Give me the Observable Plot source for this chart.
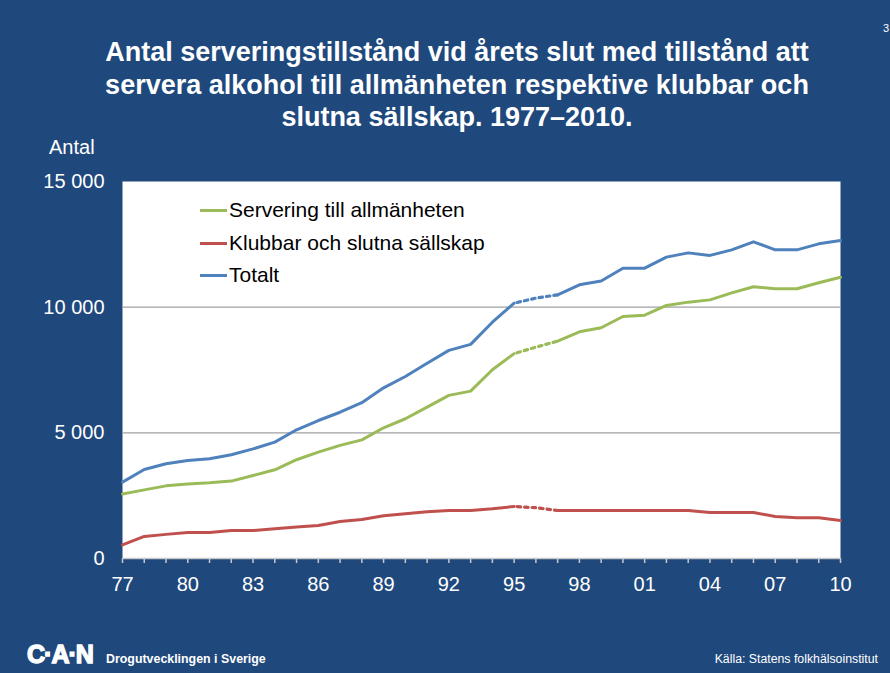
<!DOCTYPE html>
<html><head><meta charset="utf-8">
<script src="https://cdn.jsdelivr.net/npm/d3@7"></script>
<script src="https://cdn.jsdelivr.net/npm/@observablehq/plot@0.6"></script>
<style>
body{margin:0;background:#1F497D;}
#wrap{position:relative;width:890px;height:673px;background:#1F497D;overflow:hidden;font-family:"Liberation Sans",Arial,Helvetica,sans-serif;color:#fff;}
#chart{position:absolute;left:0;top:0;}
#title{position:absolute;left:0;top:36px;width:914px;text-align:center;font-weight:bold;font-size:27px;line-height:32.5px;color:#fff;}
#ylab{position:absolute;left:49px;top:137px;font-size:20px;line-height:1;}
.leg{position:absolute;left:200px;height:20px;display:flex;align-items:center;color:#000;font-size:21px;}
.leg span.sw{display:inline-block;width:27px;height:3px;margin-right:2px;}
#logo{position:absolute;left:27px;top:642px;font-weight:900;font-size:25px;line-height:25px;letter-spacing:-1px;-webkit-text-stroke:1.4px #fff;}
#org{position:absolute;left:106px;top:653px;font-weight:bold;font-size:12.4px;line-height:13px;}
#src{position:absolute;right:12px;top:653px;font-size:12.3px;line-height:13px;}
#pg{position:absolute;left:883px;top:22px;font-size:11px;}
</style></head><body><div id="wrap">
<div id="chart"></div>
<div id="title">Antal serveringstillstånd vid årets slut med tillstånd att<br>servera alkohol till allmänheten respektive klubbar och<br>slutna sällskap. 1977–2010.</div>
<div id="ylab">Antal</div>
<div id="legend"></div>
<div id="logo">C·A·N</div>
<div id="org">Drogutvecklingen i Sverige</div>
<div id="src">Källa: Statens folkhälsoinstitut</div>
<div id="pg">3</div>
</div>
<script>
const years = [1977,1978,1979,1980,1981,1982,1983,1984,1985,1986,1987,1988,1989,1990,1991,1992,1993,1994,1995,1996,1997,1998,1999,2000,2001,2002,2003,2004,2005,2006,2007,2008,2009,2010];
const servering = [2570,2730,2890,2960,3010,3080,3300,3530,3930,4230,4500,4720,5200,5560,6020,6490,6660,7510,8150,8410,8650,9020,9180,9630,9680,10070,10200,10290,10570,10810,10730,10730,10970,11190];
const klubbar = [540,880,960,1030,1030,1110,1110,1180,1250,1310,1470,1550,1700,1780,1860,1910,1910,1980,2070,2020,1910,1910,1910,1910,1910,1910,1910,1830,1830,1830,1670,1620,1620,1510];
const totalt = [3040,3540,3770,3900,3970,4130,4360,4630,5120,5490,5820,6200,6790,7240,7770,8280,8520,9400,10160,10360,10490,10890,11040,11550,11550,11990,12160,12060,12280,12600,12280,12280,12520,12650];
const seriesNames = ["Servering till allmänheten","Klubbar och slutna sällskap","Totalt"];
const seriesColors = ["#9BBB59","#C0504D","#4F81BD"];
const seriesValues = [servering, klubbar, totalt];
const gapStart = 1995, gapEnd = 1997; // years drawn dotted
const xTickYears = [1977,1980,1983,1986,1989,1992,1995,1998,2001,2004,2007,2010];
const xTickLabels = ["77","80","83","86","89","92","95","98","01","04","07","10"];
const yTicks = [0,5000,10000,15000];
const yTickLabels = ["0","5 000","10 000","15 000"];
const gridValues = [5000,10000];

const rows = [];
seriesNames.forEach((name, s) => {
  years.forEach((yr, i) => {
    const v = seriesValues[s][i];
    if (yr <= gapStart) rows.push({series: name, year: yr, value: v, seg: "a"});
    if (yr >= gapStart && yr <= gapEnd) rows.push({series: name, year: yr, value: v, seg: "dot"});
    if (yr >= gapEnd) rows.push({series: name, year: yr, value: v, seg: "b"});
  });
});

const lineMarks = [];
seriesNames.forEach((name, s) => {
  const solid = rows.filter(r => r.series === name && r.seg !== "dot");
  const dotted = rows.filter(r => r.series === name && r.seg === "dot");
  lineMarks.push(Plot.line(solid, {x: "year", y: "value", z: "seg", stroke: seriesColors[s], strokeWidth: 3, strokeLinejoin: "round"}));
  lineMarks.push(Plot.line(dotted, {x: "year", y: "value", stroke: seriesColors[s], strokeWidth: 3.2, strokeDasharray: "3.5,4", strokeDashoffset: -3}));
});

const chart = Plot.plot({
  width: 890, height: 673,
  marginLeft: 122, marginRight: 50, marginTop: 181, marginBottom: 115,
  x: {domain: [1977, 2010]},
  y: {domain: [0, 15000]},
  style: {background: "transparent", fontFamily: "'Liberation Sans', Arial, sans-serif", fontSize: "20px", color: "white"},
  marks: [
    Plot.frame({fill: "white", stroke: "none"}),
    Plot.gridY(gridValues, {stroke: "#a0a0a0", strokeOpacity: 1, strokeWidth: 1.3}),
    Plot.axisY(yTicks, {tickSize: 0, tickPadding: 18, tickFormat: d => yTickLabels[yTicks.indexOf(d)], fill: "white", fontSize: 20, label: null}),
    Plot.ruleY([0], {stroke: "#c8c8c8", strokeWidth: 1.5}),
    Plot.axisX(years, {tickSize: 5, stroke: "#c8c8c8", strokeWidth: 1.5, fill: "none", label: null}),
    Plot.axisX(xTickYears, {tickSize: 0, tickPadding: 18, tickFormat: d => xTickLabels[xTickYears.indexOf(d)], fill: "white", fontSize: 20, label: null}),
    ...lineMarks
  ]
});
document.getElementById("chart").appendChild(chart);

const legTops = [200, 233, 265];
const legend = document.getElementById("legend");
seriesNames.forEach((name, s) => {
  const d = document.createElement("div");
  d.className = "leg";
  d.style.top = legTops[s] + "px";
  const sw = document.createElement("span");
  sw.className = "sw";
  sw.style.background = seriesColors[s];
  d.appendChild(sw);
  d.appendChild(document.createTextNode(name));
  legend.appendChild(d);
});
</script>
</body></html>
